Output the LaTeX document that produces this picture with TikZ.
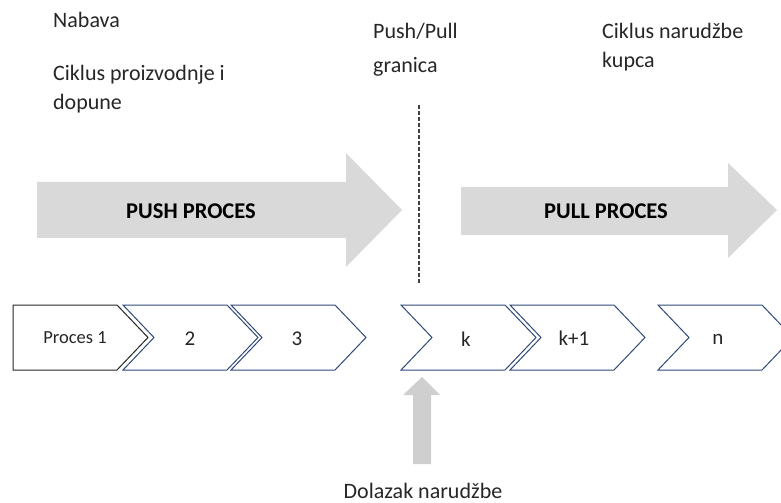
\documentclass[tikz,border=0pt]{standalone}
\usepackage{fontspec}
\setmainfont{Carlito}
\definecolor{arrowgray}{HTML}{D9D9D9}
\definecolor{uparrowgray}{HTML}{CFCFCF}
\definecolor{chevblue}{HTML}{2F4A78}
\definecolor{txt}{HTML}{262626}
\definecolor{dashgray}{HTML}{404040}
\tikzset{
  bigarrow/.style={fill=arrowgray, draw=none},
  chevbox/.style={draw=chevblue, line width=1bp, fill=white, line join=miter},
  firstbox/.style={draw=txt, line width=1bp, fill=white, line join=miter},
  toplbl/.style={font=\fontsize{22bp}{26bp}\selectfont, text=txt, anchor=base west, inner sep=0pt},
  boldlbl/.style={font=\fontsize{22.5bp}{26bp}\selectfont\bfseries, text=black, inner sep=0pt},
  chevlbl/.style={font=\fontsize{21bp}{24bp}\selectfont, text=txt, inner sep=0pt},
  smalllbl/.style={font=\fontsize{18.5bp}{22bp}\selectfont, text=txt, inner sep=0pt},
  boundary/.style={draw=dashgray, line width=1.3bp, dash pattern=on 4bp off 2bp}
}
\begin{document}
\begin{tikzpicture}[x=1bp,y=-1bp]
\useasboundingbox (0,0) rectangle (781,503);
\clip (0,0) rectangle (781,503);

% top texts
\node[toplbl] (nabava) at (53,28) {Nabava};
\node[toplbl] (ciklus1) at (53,81) {Ciklus proizvodnje i};
\node[toplbl] (dopune) at (53,110) {dopune};
\node[toplbl] (pp1) at (373,39) {Push/Pull};
\node[toplbl] (pp2) at (373,73) {granica};
\node[toplbl] (cn1) at (602,39) {Ciklus narudžbe};
\node[toplbl] (cn2) at (602,68) {kupca};

% big arrows
\fill[bigarrow] (37,182) -- (346,182) -- (346,153) -- (402,210) -- (346,267) -- (346,238) -- (37,238) -- cycle;
\node[boldlbl] (push) at (191,211) {PUSH PROCES};
\fill[bigarrow] (461,187) -- (728,187) -- (728,163) -- (777,210) -- (728,258) -- (728,235) -- (461,235) -- cycle;
\node[boldlbl] (pull) at (606,211) {PULL PROCES};

% boundary line
\coordinate (btop) at (419,105);
\coordinate (bbot) at (419,284);
\draw[boundary] (btop) -- (bbot);

% chevrons
\draw[firstbox] (13,305) -- (117,305) -- (148,337.5) -- (117,370) -- (13,370) -- cycle;
\node[smalllbl] (p1) at (75,338) {Proces 1};
\foreach \x in {123,231,401,510,658}{
  \draw[chevbox] (\x,305) -- ++(104,0) -- ++(31,32.5) -- ++(-31,32.5) -- ++(-104,0) -- ++(31,-32.5) -- cycle;
}
\node[chevlbl] (p2) at (190,339) {2};
\node[chevlbl] (p3) at (297,339) {3};
\node[chevlbl] (pk) at (466,339) {k};
\node[chevlbl] (pk1) at (574,338) {k+1};
\node[chevlbl] (pn) at (718,339) {n};

% incoming order arrow
\fill[fill=uparrowgray] (422,377) -- (440,395) -- (431,395) -- (431,464) -- (413,464) -- (413,395) -- (403,395) -- cycle;
\node[toplbl, anchor=base] (dolazak) at (423,498) {Dolazak narudžbe};
\end{tikzpicture}
\end{document}
